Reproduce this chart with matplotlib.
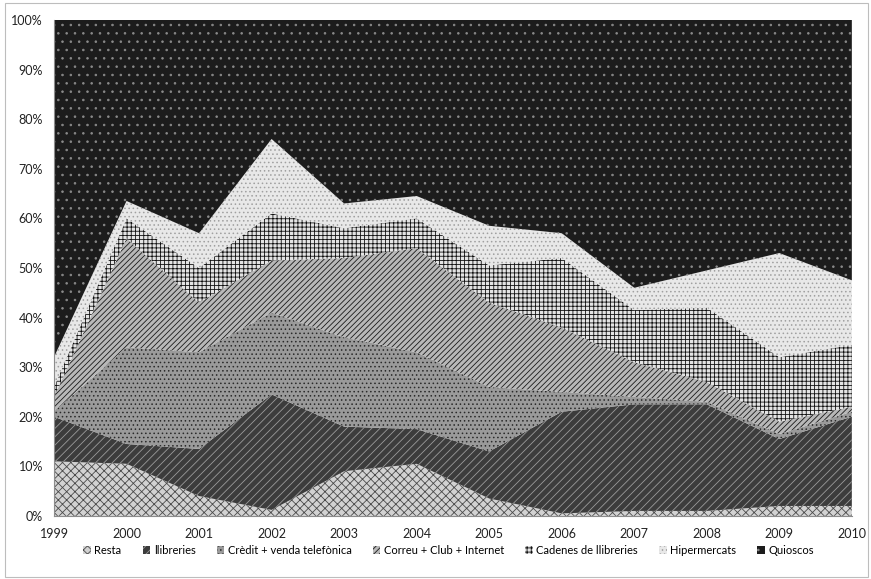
import matplotlib
matplotlib.use("Agg")
import matplotlib.pyplot as plt
from matplotlib.patches import Rectangle, Patch
from matplotlib.ticker import PercentFormatter

# ==========================================
# DATA (share of sales, %)
# ==========================================

years = [1999, 2000, 2001, 2002, 2003, 2004, 2005, 2006, 2007, 2008, 2009, 2010]

labels = ["Resta", "llibreries", "Crèdit + venda telefònica", "Correu + Club + Internet",
          "Cadenes de llibreries", "Hipermercats", "Quioscos"]

resta = [11, 10.5, 4, 1.2, 9, 10.5, 3.5, 0.5, 1, 1, 2, 2]
llibreries = [9, 4, 9.5, 23.3, 9, 7, 9.5, 20.5, 21.5, 21.5, 13.5, 18]
credit = [1, 19.5, 19.5, 16.5, 18, 15.5, 13, 4, 1.5, 0.5, 1, 1]
correu = [3, 22, 10, 10.5, 16, 21, 17, 13, 7, 4, 2.5, 1]
cadenes = [2, 4, 7, 9.5, 6, 6, 7.5, 14, 10.5, 15, 13, 12.5]
hipermercats = [6, 3.5, 7, 15, 5, 4.5, 8, 5, 4.5, 7.5, 21, 13]
quioscos = [68, 36.5, 43, 24, 37, 35.5, 41.5, 43, 54, 50.5, 47, 52.5]

series = [resta, llibreries, credit, correu, cadenes, hipermercats, quioscos]

# grayscale pattern fills (face, hatch colour, hatch)
faces = ["#d2d2d2", "#3c3c3c", "#9a9a9a", "#b8b8b8", "#e4e4e4", "#e8e8e8", "#1c1c1c"]
hatch_cols = ["#4a4a4a", "#9a9a9a", "#2a2a2a", "#1a1a1a", "#111111", "#a0a0a0", "#8a8a8a"]
hatches = ["xxxx", "////", "....", "//////", "++++", "....", ".."]

# ==========================================
# PLOT
# ==========================================

plt.rcParams["font.family"] = ["Lato", "DejaVu Sans"]
plt.rcParams["hatch.linewidth"] = 0.6

fig = plt.figure(figsize=(8.71, 5.79), dpi=100)
ax = fig.add_axes([0.062, 0.109, 0.916, 0.8565])

polys = ax.stackplot(years, *series, colors=faces, linewidth=0)
for p, hc, h in zip(polys, hatch_cols, hatches):
    p.set_edgecolor(hc)
    p.set_hatch(h)
    p.set_linewidth(0)

ax.set_xlim(years[0], years[-1])
ax.set_ylim(0, 100)
ax.set_xticks(years)
ax.set_yticks(range(0, 101, 10))
ax.yaxis.set_major_formatter(PercentFormatter(decimals=0))
ax.tick_params(axis="both", length=0, labelsize=9, colors="#222222")
ax.tick_params(axis="x", pad=9)
ax.tick_params(axis="y", pad=8)

for side in ["top", "right"]:
    ax.spines[side].set_visible(False)
for side in ["left", "bottom"]:
    ax.spines[side].set_color("#8c8c8c")
    ax.spines[side].set_linewidth(0.8)

handles = [Patch(facecolor=f, edgecolor=hc, hatch=h, linewidth=0)
           for f, hc, h in zip(faces, hatch_cols, hatches)]
fig.legend(handles, labels, loc="center", bbox_to_anchor=(0.515, 0.05), ncol=7,
           frameon=False, fontsize=8, handlelength=0.7, handleheight=0.7,
           handletextpad=0.3, columnspacing=1.9)

# outer chart border
fig.patches.append(Rectangle((0.006, 0.004), 0.99, 0.99, transform=fig.transFigure,
                             fill=False, edgecolor="#bdbdbd", linewidth=0.8))

plt.savefig("out.png", dpi=100)
